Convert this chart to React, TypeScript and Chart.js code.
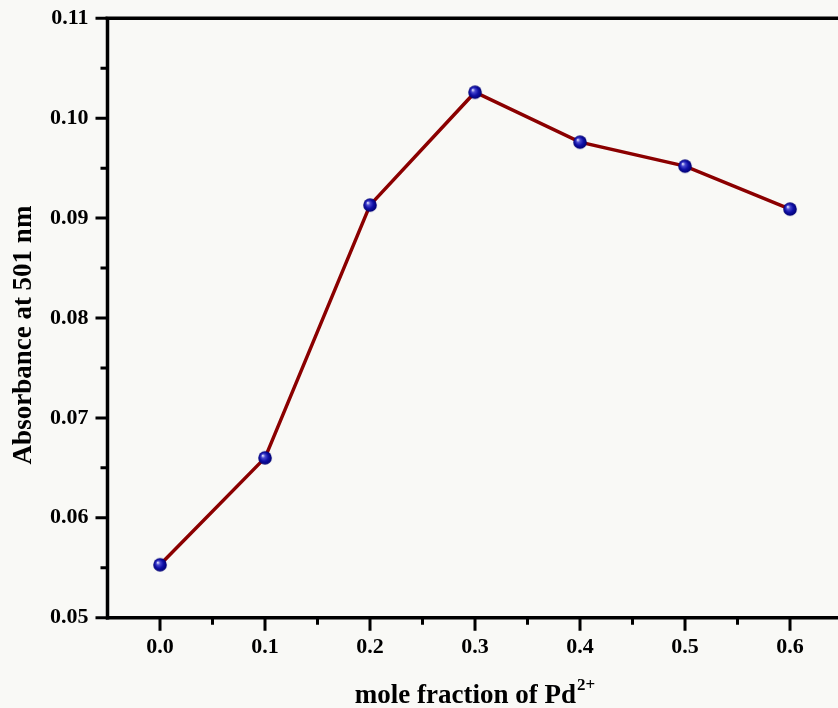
import React, { useEffect, useRef } from 'react';
import { Chart, registerables } from 'chart.js';

Chart.register(...registerables);

const moleFraction = [0.0, 0.1, 0.2, 0.3, 0.4, 0.5, 0.6];
const absorbance = [0.0553, 0.066, 0.0913, 0.1026, 0.0976, 0.0952, 0.0909];

const xMajorTicks = [0.0, 0.1, 0.2, 0.3, 0.4, 0.5, 0.6];
const xMinorTicks = [0.05, 0.15, 0.25, 0.35, 0.45, 0.55];
const yMajorTicks = [0.05, 0.06, 0.07, 0.08, 0.09, 0.1, 0.11];
const yMinorTicks = [0.055, 0.065, 0.075, 0.085, 0.095, 0.105];

const X_MIN = -0.05;
const X_MAX = 0.6457;
const Y_MIN = 0.05;
const Y_MAX = 0.11;

const xTitle = 'mole fraction of Pd';
const xTitleSup = '2+';
const yTitle = 'Absorbance at 501 nm';

const FONT = '"Liberation Serif", "Times New Roman", serif';

function makeSphere(r: number): HTMLCanvasElement {
  const c = document.createElement('canvas');
  const s = Math.ceil(r * 2 + 2);
  c.width = s;
  c.height = s;
  const g = c.getContext('2d')!;
  const cx = s / 2;
  const cy = s / 2;
  const grad = g.createRadialGradient(cx - r * 0.35, cy - r * 0.35, r * 0.05, cx, cy, r);
  grad.addColorStop(0, '#e6e6ff');
  grad.addColorStop(0.25, '#4a4ad0');
  grad.addColorStop(0.6, '#1010a8');
  grad.addColorStop(1, '#000070');
  g.fillStyle = grad;
  g.beginPath();
  g.arc(cx, cy, r, 0, Math.PI * 2);
  g.fill();
  return c;
}

function zeroPadding(scale: any) {
  scale.paddingTop = 0;
  scale.paddingBottom = 0;
  scale.paddingLeft = 0;
  scale.paddingRight = 0;
}

const framePlugin = {
  id: 'frameTicks',
  afterDraw(chart: any) {
    const ctx = chart.ctx as CanvasRenderingContext2D;
    const { left, right, top, bottom } = chart.chartArea;
    const xs = chart.scales.x;
    const ys = chart.scales.y;
    ctx.save();
    ctx.strokeStyle = '#000';
    ctx.lineCap = 'butt';
    ctx.lineWidth = 3;
    ctx.beginPath();
    xMajorTicks.forEach((v) => {
      const px = xs.getPixelForValue(v);
      ctx.moveTo(px, bottom);
      ctx.lineTo(px, bottom + 13);
    });
    xMinorTicks.forEach((v) => {
      const px = xs.getPixelForValue(v);
      ctx.moveTo(px, bottom);
      ctx.lineTo(px, bottom + 7);
    });
    yMajorTicks.forEach((v) => {
      const py = ys.getPixelForValue(v);
      ctx.moveTo(left, py);
      ctx.lineTo(left - 12, py);
    });
    yMinorTicks.forEach((v) => {
      const py = ys.getPixelForValue(v);
      ctx.moveTo(left, py);
      ctx.lineTo(left - 7, py);
    });
    ctx.stroke();
    ctx.lineWidth = 3.5;
    ctx.beginPath();
    ctx.moveTo(left, bottom);
    ctx.lineTo(right, bottom);
    ctx.moveTo(left, bottom + 2);
    ctx.lineTo(left, top);
    ctx.moveTo(left - 2, top);
    ctx.lineTo(right, top);
    ctx.stroke();

    ctx.fillStyle = '#000';
    ctx.textBaseline = 'alphabetic';
    ctx.textAlign = 'left';
    ctx.font = `bold 27px ${FONT}`;
    const w1 = ctx.measureText(xTitle).width;
    ctx.font = `bold 17px ${FONT}`;
    const w2 = ctx.measureText(xTitleSup).width;
    const cx = 474.5;
    const start = cx - (w1 + w2) / 2;
    const base = 703;
    ctx.font = `bold 27px ${FONT}`;
    ctx.fillText(xTitle, start, base);
    ctx.font = `bold 17px ${FONT}`;
    ctx.fillText(xTitleSup, start + w1 + 1, base - 13);

    ctx.save();
    ctx.translate(31, 335);
    ctx.rotate(-Math.PI / 2);
    ctx.font = `bold 27px ${FONT}`;
    ctx.textAlign = 'center';
    ctx.textBaseline = 'alphabetic';
    ctx.fillText(yTitle, 0, 0);
    ctx.restore();

    ctx.restore();
  },
};

export default function App() {
  const ref = useRef<HTMLCanvasElement | null>(null);

  useEffect(() => {
    if (!ref.current) return;
    const sphere = makeSphere(6.8);
    const chart = new Chart(ref.current, {
      type: 'line',
      data: {
        datasets: [
          {
            data: moleFraction.map((x, i) => ({ x, y: absorbance[i] })),
            borderColor: '#8b0000',
            borderWidth: 3.5,
            pointStyle: sphere as any,
            pointRadius: 7,
            pointHoverRadius: 7,
            tension: 0,
            fill: false,
          },
        ],
      },
      options: {
        responsive: false,
        animation: false,
        devicePixelRatio: 1,
        layout: { autoPadding: false, padding: { left: 0, right: 0, top: 18.3, bottom: 0 } },
        plugins: {
          legend: { display: false },
          tooltip: { enabled: false },
        },
        scales: {
          x: {
            type: 'linear',
            min: X_MIN,
            max: X_MAX,
            afterBuildTicks: (scale: any) => {
              scale.ticks = xMajorTicks.map((v) => ({ value: v }));
            },
            afterFit: (scale: any) => {
              scale.height = 708 - 18.3 - 599.4;
              zeroPadding(scale);
            },
            grid: { display: false, drawTicks: false },
            border: { display: false },
            ticks: {
              color: '#000',
              padding: 16,
              autoSkip: false,
              maxRotation: 0,
              font: { family: FONT, weight: 'bold', size: 22 },
              callback: (v: any) => Number(v).toFixed(1),
            },
          },
          y: {
            type: 'linear',
            min: Y_MIN,
            max: Y_MAX,
            afterBuildTicks: (scale: any) => {
              scale.ticks = yMajorTicks.map((v) => ({ value: v }));
            },
            afterFit: (scale: any) => {
              scale.width = 107.5;
              zeroPadding(scale);
            },
            grid: { display: false, drawTicks: false },
            border: { display: false },
            ticks: {
              color: '#000',
              padding: 19,
              autoSkip: false,
              font: { family: FONT, weight: 'bold', size: 22 },
              callback: (v: any) => Number(v).toFixed(2),
            },
          },
        },
      },
      plugins: [framePlugin],
    });
    return () => chart.destroy();
  }, []);

  return (
    <div
      style={{
        position: 'fixed',
        left: 0,
        top: 0,
        width: 838,
        height: 708,
        overflow: 'hidden',
        background: '#f9f9f6',
      }}
    >
      <canvas ref={ref} width={838} height={708} style={{ width: 838, height: 708, display: 'block' }} />
    </div>
  );
}
